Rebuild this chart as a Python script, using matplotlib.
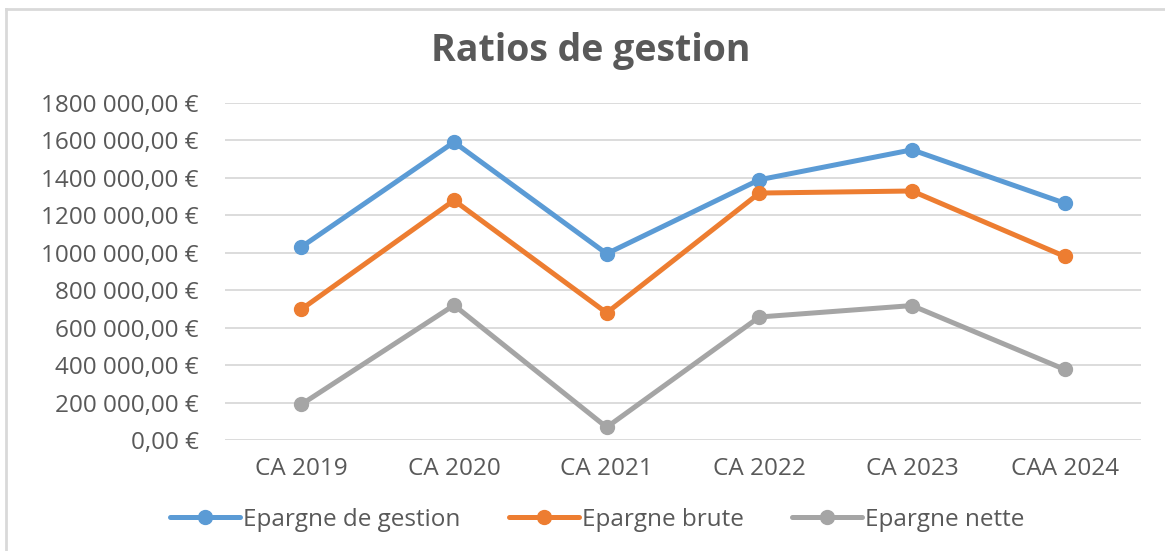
import matplotlib
matplotlib.use("Agg")
import matplotlib.pyplot as plt
from matplotlib.lines import Line2D

categories = ["CA 2019", "CA 2020", "CA 2021", "CA 2022", "CA 2023", "CAA 2024"]
epargne_gestion = [1031000, 1591000, 995000, 1390000, 1550000, 1265000]
epargne_brute = [698000, 1280000, 679000, 1319000, 1330000, 981000]
epargne_nette = [190000, 720000, 68000, 657000, 718000, 377000]
series_names = ["Epargne de gestion", "Epargne brute", "Epargne nette"]
y_ticks = [0, 200000, 400000, 600000, 800000, 1000000, 1200000, 1400000, 1600000, 1800000]

colors = ["#5B9BD5", "#ED7D31", "#A5A5A5"]
text_color = "#595959"

plt.rcParams['font.family'] = ['Open Sans', 'DejaVu Sans']


def euro(v, pos=None):
    if v == 0:
        return "0,00 €"
    return f"{int(v // 1000)} 000,00 €"


W, H = 1165, 551
fig = plt.figure(figsize=(W / 100, H / 100), dpi=100)
ax = fig.add_axes([225 / W, 1 - 440 / H, 916 / W, 337 / H])

x = list(range(len(categories)))
for vals, name, c in zip([epargne_gestion, epargne_brute, epargne_nette], series_names, colors):
    ax.plot(x, vals, color=c, lw=3.6, marker="o", ms=10, label=name,
            solid_capstyle="round", zorder=3)

ax.set_xlim(-0.5, len(categories) - 0.5)
ax.set_ylim(0, 1800000)
ax.set_yticks(y_ticks)
ax.yaxis.set_major_formatter(plt.FuncFormatter(euro))
ax.set_xticks(x)
ax.set_xticklabels(categories)
ax.grid(axis="y", color="#D9D9D9", lw=1.3)
ax.set_axisbelow(True)
for s in ax.spines.values():
    s.set_visible(False)
ax.tick_params(length=0, labelsize=17.5, colors=text_color)
ax.tick_params(axis="y", pad=19)
ax.tick_params(axis="x", pad=12)

fig.text(591 / W, 1 - 51 / H, "Ratios de gestion", ha="center", va="center",
         fontsize=27, fontweight="bold", color=text_color)

handles, labels = ax.get_legend_handles_labels()
fig.legend(handles, labels, loc="center", bbox_to_anchor=(597 / W, 1 - 520 / H),
           ncol=3, frameon=False, fontsize=17.5, labelcolor=text_color,
           handlelength=2.9, handletextpad=0.1, columnspacing=2.0)

# chart frame (only top and left edges are visible in the crop)
fig.add_artist(Line2D([6 / W, 1], [1 - 9 / H, 1 - 9 / H], transform=fig.transFigure,
                      color="#D9D9D9", lw=2))
fig.add_artist(Line2D([6 / W, 6 / W], [0, 1 - 9 / H], transform=fig.transFigure,
                      color="#D9D9D9", lw=2))

fig.savefig("out.png", dpi=100)
